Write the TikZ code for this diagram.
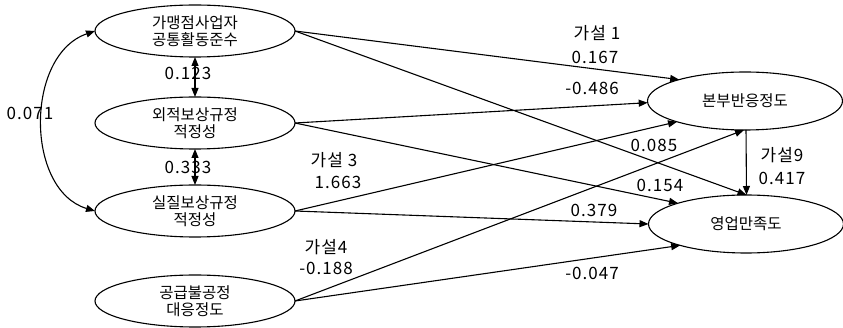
\documentclass[tikz,border=0pt]{standalone}
\usepackage{fontspec}
\setmainfont{Noto Sans CJK KR}
\newfontfamily\numfont[LetterSpace=6]{Noto Sans CJK KR}
\usetikzlibrary{shapes.geometric,arrows.meta}
\tikzset{
  latent/.style={ellipse,draw,line width=1.1pt,outer sep=0pt,inner sep=0pt,
    minimum width=200pt,minimum height=52pt,align=center,
    font=\fontsize{15.5}{17}\selectfont},
  outcome/.style={latent,minimum width=195pt,minimum height=58pt},
  path/.style={line width=1.1pt,-{Triangle[length=9pt,width=7pt]}},
  cov/.style={line width=1.1pt,{Triangle[length=9pt,width=7pt]}-{Triangle[length=9pt,width=7pt]}},
  coef/.style={inner sep=0pt,font=\numfont\fontsize{17}{22}\selectfont,align=center}
}
\begin{document}
\begin{tikzpicture}[x=1pt,y=-1pt]
\useasboundingbox (0,0) rectangle (843,328);
% exogenous constructs
\node[latent] (franchise) at (195,31) {가맹점사업자\\공통활동준수};
\node[latent] (extcomp) at (195,123) {외적보상규정\\적정성};
\node[latent] (realcomp) at (195,211) {실질보상규정\\적정성};
\node[latent] (supply) at (195,301) {공급불공정\\대응정도};
% endogenous constructs
\node[outcome] (hq) at (745,101) {본부반응정도};
\node[outcome] (sales) at (746,224) {영업만족도};

% correlations among exogenous constructs
\draw[cov] (franchise.south) -- (extcomp.north);
\draw[cov] (extcomp.south) -- (realcomp.north);
\draw[cov] (franchise.west) .. controls (25,55) and (25,190) .. (realcomp.west);

% structural paths
\draw[path] (franchise.east) -- (hq.162);
\draw[path] (franchise.east) -- (sales.89);
\draw[path] (extcomp.east) -- (hq.181);
\draw[path] (extcomp.east) -- (sales.163);
\draw[path] (realcomp.east) -- (hq.197);
\draw[path] (realcomp.east) -- (sales.180);
\draw[path] (supply.east) -- (hq.268);
\draw[path] (supply.east) -- (sales.198);
\draw[path] (hq.272) -- (sales.89);

% coefficients
\node[coef] (l071) at (30,113) {0.071};
\node[coef] (l123) at (188,73) {0.123};
\node[coef] (l333) at (188,167) {0.333};
\node[coef] (h1) at (597,33) {가설 1};
\node[coef] (l167) at (595,57) {0.167};
\node[coef] (l486) at (592,88) {-0.486};
\node[coef] (h3) at (334,160) {가설 3};
\node[coef] (l1663) at (338,182) {1.663};
\node[coef] (l085) at (654,145) {0.085};
\node[coef] (l154) at (660,185) {0.154};
\node[coef] (l379) at (594,210) {0.379};
\node[coef] (h4) at (326,247) {가설4};
\node[coef] (l188) at (326,268) {-0.188};
\node[coef] (l047) at (592,273) {-0.047};
\node[coef] (h9) at (782,155) {가설9};
\node[coef] (l417) at (782,178) {0.417};
\end{tikzpicture}
\end{document}
